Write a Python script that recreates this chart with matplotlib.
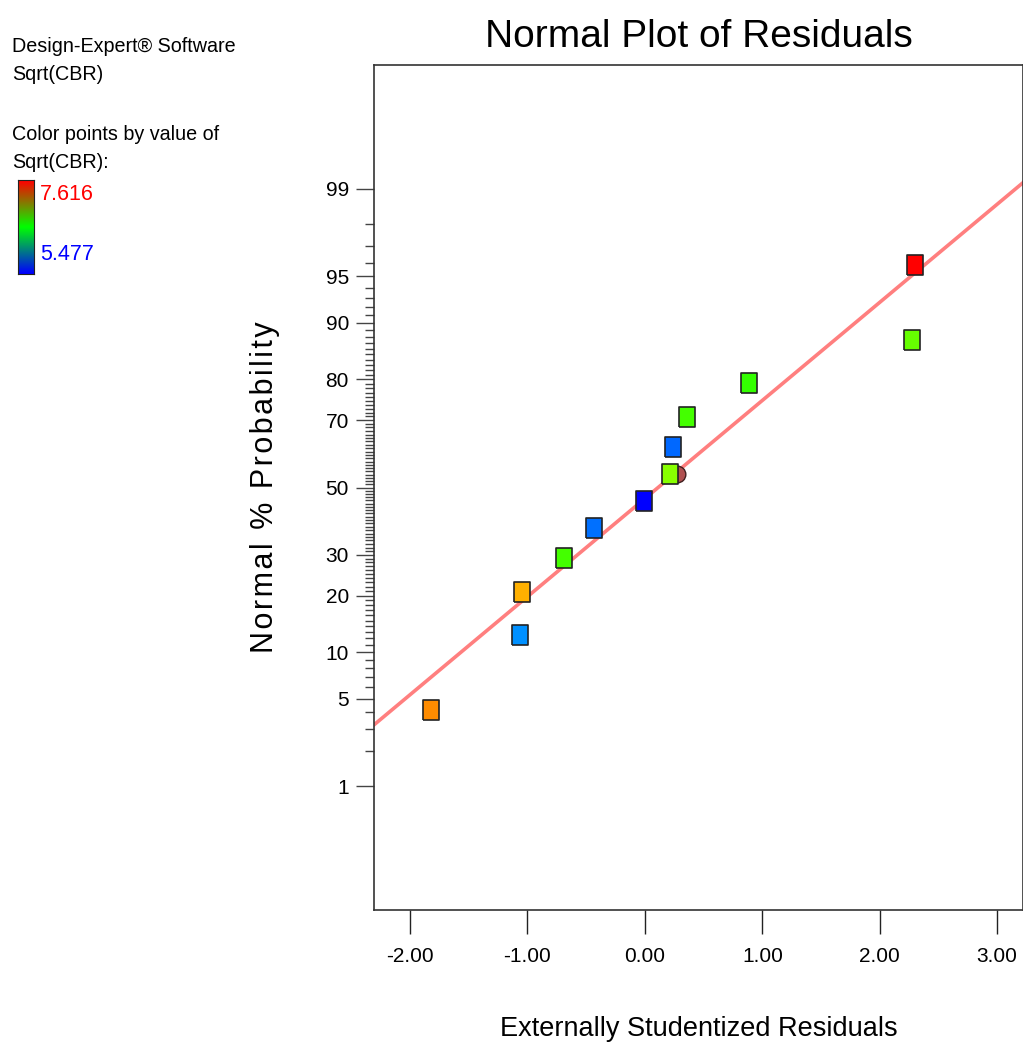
from statistics import NormalDist
import numpy as np
import matplotlib.pyplot as plt
from matplotlib.colors import LinearSegmentedColormap

plt.rcParams['font.family'] = ['Liberation Sans', 'DejaVu Sans']

# residuos (x) y probabilidad normal (%)
resid = [-1.82, -1.06, -1.05, -0.69, -0.43, -0.01, 0.21, 0.24, 0.355, 0.885, 2.275, 2.30]
prob = [4.17, 12.5, 20.83, 29.17, 37.5, 45.83, 54.17, 62.5, 70.83, 79.17, 87.5, 95.83]
colores = ['#ff8c00', '#0090ff', '#ffb000', '#44ff00', '#0070ff', '#0000ff',
           '#88ff00', '#0068ff', '#44ff00', '#33ff00', '#66ff00', '#ff0000']
circulo_x, circulo_p = 0.27, 54.17

major_p = [1, 5, 10, 20, 30, 50, 70, 80, 90, 95, 99]
minor_p = [p for p in range(2, 99) if p not in major_p]
xticks = [-2, -1, 0, 1, 2, 3]

# linea de referencia
pend, inter = 0.764, -0.086
xlim = (-2.307, 3.22)

nd = NormalDist()
z = lambda p: nd.inv_cdf(p / 100.0)

W, H = 1023, 1044
fig = plt.figure(figsize=(W / 100, H / 100), dpi=100)
ax = fig.add_axes([374 / W, 1 - 910 / H, 649 / W, 845 / H])

xs = np.array(xlim)
ax.plot(xs, inter + pend * xs, color='#ff7f7f', lw=2.6, zorder=2)

ax.plot(circulo_x, z(circulo_p), 'o', ms=12, mfc='#b05050', mec='#402020', mew=1, zorder=3)
rect = [(-0.8, -1), (0.8, -1), (0.8, 1), (-0.8, 1), (-0.8, -1)]
for xv, pv, c in zip(resid, prob, colores):
    ax.plot(xv, z(pv), marker=rect, ms=15, mfc=c, mec='#222222', mew=1.2, ls='none', zorder=4)

ax.set_xlim(*xlim)
ax.set_ylim(z(0.05), z(99.95))
ax.set_yticks([z(p) for p in major_p])
ax.set_yticklabels([str(p) for p in major_p])
ax.set_yticks([z(p) for p in minor_p], minor=True)
ax.set_xticks(xticks)
ax.set_xticklabels(['%.2f' % v for v in xticks])

ax.tick_params(axis='y', which='major', direction='out', length=13, width=1, color='#444444',
               labelsize=15, pad=5)
ax.tick_params(axis='y', which='minor', direction='out', length=6.5, width=1, color='#444444')
ax.tick_params(axis='x', direction='out', length=17, width=1, color='#222222', labelsize=15, pad=10)
for s in ax.spines.values():
    s.set_color('#333333')
    s.set_linewidth(1.2)

ax.set_title('Normal Plot of Residuals', fontsize=28, pad=13)
ax.set_xlabel('Externally Studentized Residuals', fontsize=19.5, labelpad=36)
etiqueta_y = '\u200a'.join('Normal % Probability')
ax.set_ylabel(etiqueta_y, fontsize=22, labelpad=33)

# texto de la izquierda
fs = 14.2
fig.text(12 / W, 1 - 46 / H, 'Design-Expert® Software', fontsize=fs, va='center')
fig.text(12 / W, 1 - 75 / H, 'Sqrt(CBR)', fontsize=fs, va='center')
fig.text(12 / W, 1 - 135 / H, 'Color points by value of', fontsize=fs, va='center')
fig.text(12 / W, 1 - 163 / H, 'Sqrt(CBR):', fontsize=fs, va='center')
fig.text(40 / W, 1 - 195 / H, '7.616', fontsize=15.5, color='red', va='center')
fig.text(40 / W, 1 - 254 / H, '5.477', fontsize=15.5, color='blue', va='center')

cax = fig.add_axes([18 / W, 1 - 274 / H, 16 / W, 94 / H])
cmap = LinearSegmentedColormap.from_list('de', ['#0000ff', '#00ff00', '#ff0000'])
cax.imshow(np.linspace(0, 1, 100).reshape(-1, 1), cmap=cmap, aspect='auto', origin='lower')
cax.set_xticks([])
cax.set_yticks([])
for s in cax.spines.values():
    s.set_color('#222222')

fig.savefig('out.png', dpi=100)
